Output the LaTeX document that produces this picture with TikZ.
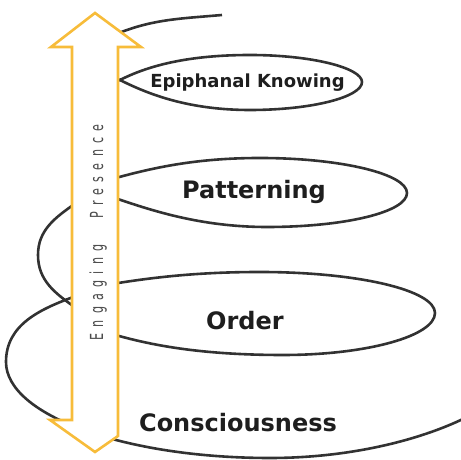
\documentclass[tikz,border=0pt]{standalone}
\usepackage{fontspec}
\setmainfont{DejaVu Sans}
\newfontfamily\presfont[LetterSpace=56]{DejaVu Sans}
\definecolor{arrowor}{RGB}{247,188,58}
\definecolor{spiralc}{RGB}{50,50,50}
\definecolor{labtext}{RGB}{30,30,30}
\definecolor{presgray}{RGB}{75,75,75}
\begin{document}
\begin{tikzpicture}[x=1pt,y=1pt,
  coil/.style={draw=spiralc,line width=2.6pt},
  arrowbox/.style={draw=arrowor,fill=white,line width=2.6pt,line join=miter},
  level/.style={font=\bfseries\fontsize{24}{28}\selectfont,text=labtext,anchor=base,inner sep=0pt},
  toplevel/.style={font=\bfseries\fontsize{18}{20}\selectfont,text=labtext,anchor=base,inner sep=0pt},
  pres/.style={rotate=90,anchor=base,inner sep=0pt,text=presgray,font=\presfont\fontsize{18}{20}\selectfont}]
\useasboundingbox (0,0) rectangle (461,460);
% spiral pieces (the arrow hides the joins)
\draw[coil] (222,445) to[out=185,in=25] (105,421);
% Epiphanal Knowing loop
\draw[coil] (114,380) -- (121,380.5)
  .. controls (150,395) and (190,405) .. (250,405)
  .. controls (312,405) and (362,392) .. (362,378)
  .. controls (362,363) and (312,350) .. (250,350)
  .. controls (190,350) and (150,365) .. (121,379.5) -- (114,380);
% Patterning loop
\draw[coil] (112,281)
  .. controls (152,292) and (195,302) .. (260,302)
  .. controls (341,302) and (407,286) .. (407,267)
  .. controls (407,248) and (345,233) .. (267,233)
  .. controls (200,233) and (150,250) .. (112,263);
% small left sweep
\draw[coil] (76,257) to[out=215,in=90] (38,205) to[out=-90,in=145] (76,152);
% Order loop
\draw[coil] (112,176)
  .. controls (155,183) and (200,188) .. (260,188)
  .. controls (357,188) and (435,170) .. (435,147)
  .. controls (435,124) and (367,105) .. (283,105)
  .. controls (200,105) and (150,115) .. (112,126);
% outer Consciousness loop
\draw[coil] (76,164) to[out=200,in=90] (6,98)
  arc[start angle=180,end angle=270,x radius=264,y radius=96]
  .. controls (350,2) and (420,20) .. (465,42);
% double arrow
\draw[arrowbox] (72,40) -- (50,40) -- (95,8) -- (118,24) -- (118,413) -- (141,413)
  -- (95,447) -- (51,413) -- (72,413) -- cycle;
% labels
\node[toplevel] (epi) at (247.5,372) {Epiphanal Knowing};
\node[level] (pat) at (254,261) {Patterning};
\node[level] (ord) at (245,130) {Order};
\node[level] (con) at (238,28) {Consciousness};
\node[pres] (pr) at (103,288.5) {\scalebox{0.62}[1]{Presence}};
\node[pres] (en) at (103,167.5) {\scalebox{0.62}[1]{Engaging}};
\end{tikzpicture}
\end{document}
